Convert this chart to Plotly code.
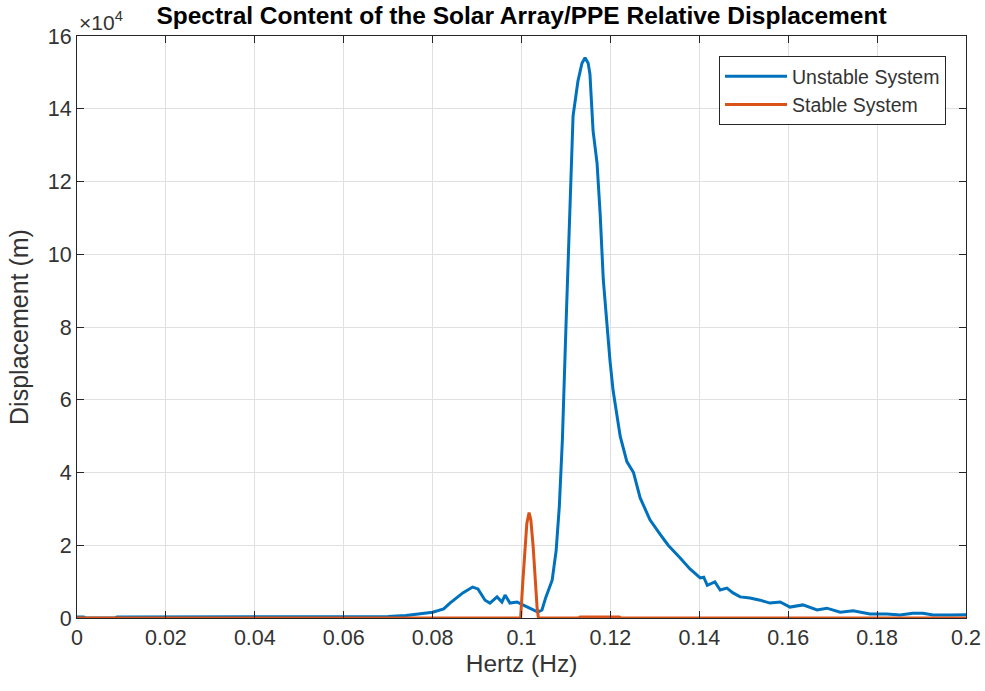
import plotly.graph_objects as go

# ---- data ----
unstable_hz = [0.0, 0.0015, 0.002, 0.0085, 0.009, 0.03, 0.05, 0.07, 0.074, 0.078, 0.08, 0.0825,
               0.0839, 0.0868, 0.089, 0.0902, 0.0918, 0.0929, 0.0945, 0.0956, 0.0963, 0.0974,
               0.099, 0.1003, 0.1026, 0.1037, 0.1046, 0.1055, 0.1069, 0.1078, 0.1085, 0.1089,
               0.1092, 0.11, 0.1105, 0.1111, 0.1116, 0.1127, 0.1136, 0.1143, 0.115, 0.1154,
               0.1161, 0.117, 0.1177, 0.1184, 0.1192, 0.1199, 0.1206, 0.1215, 0.1222, 0.1237,
               0.1252, 0.1267, 0.1289, 0.1312, 0.1330, 0.1357, 0.1379, 0.1402, 0.1410, 0.1418,
               0.1435, 0.1447, 0.1462, 0.1476, 0.1492, 0.1514, 0.1537, 0.1559, 0.1582, 0.1604,
               0.1633, 0.1665, 0.1687, 0.1717, 0.1746, 0.1784, 0.1822, 0.1852, 0.188, 0.1903,
               0.1926, 0.1964, 0.2]
unstable_disp = [300, 300, 0, 0, 300, 300, 300, 400, 700, 1200, 1600, 2500,
                 4100, 6900, 8500, 8000, 4900, 4100, 5800, 4400, 6300, 4100,
                 4400, 3600, 2200, 1600, 2200, 5800, 10400, 18600, 30500, 40000,
                 49000, 80000, 100000, 120000, 138000, 147600, 152500, 154000, 152500, 149500,
                 134000, 125000, 111000, 93000, 80000, 70800, 62600, 56000, 50000, 43000,
                 40000, 33000, 27000, 23000, 20000, 16500, 13500, 11000, 11200, 9000,
                 9900, 7700, 8200, 6900, 5800, 5500, 4900, 4100, 4400, 3000,
                 3600, 2200, 2700, 1600, 2000, 1100, 1100, 800, 1300, 1300,
                 800, 800, 900]

stable_hz = [0.0, 0.075, 0.078, 0.095, 0.097, 0.0998, 0.1003, 0.1008, 0.1012, 0.1017,
             0.1021, 0.1026, 0.1030, 0.1035, 0.1038, 0.105, 0.1128, 0.1132, 0.122, 0.1224, 0.2]
stable_disp = [0, 0, 200, 200, 0, 0, 10000, 19000, 26000, 29000,
               27000, 20000, 12000, 3000, 0, 0, 0, 300, 300, 0, 0]

x_ticks = [0, 0.02, 0.04, 0.06, 0.08, 0.1, 0.12, 0.14, 0.16, 0.18, 0.2]
x_tick_text = ["0", "0.02", "0.04", "0.06", "0.08", "0.1", "0.12", "0.14", "0.16", "0.18", "0.2"]
y_ticks = [0, 20000, 40000, 60000, 80000, 100000, 120000, 140000, 160000]
y_tick_text = ["0", "2", "4", "6", "8", "10", "12", "14", "16"]

font_family = "Liberation Sans, Arial, Helvetica, sans-serif"
axis_col = "#262626"
text_col = "#333333"
grid_col = "#e0e0e0"

fig = go.Figure()
fig.add_trace(go.Scatter(x=unstable_hz, y=unstable_disp, mode="lines", name="Unstable System",
                         line=dict(color="#0072BD", width=3)))
fig.add_trace(go.Scatter(x=stable_hz, y=stable_disp, mode="lines", name="Stable System",
                         line=dict(color="#D95319", width=3)))

fig.update_layout(
    width=985, height=691,
    margin=dict(l=77, r=19, t=36, b=73),
    paper_bgcolor="white", plot_bgcolor="white",
    font=dict(family=font_family, color=text_col, size=20),
    title=dict(text="<b>Spectral Content of the Solar Array/PPE Relative Displacement</b>",
               x=0.5, xref="paper", xanchor="center", y=1 - 15 / 691, yanchor="middle",
               font=dict(size=24.5, color="#000000", family=font_family)),
    legend=dict(x=0.9775, xanchor="right", y=0.9656, yanchor="top",
                bgcolor="white", bordercolor=axis_col, borderwidth=1,
                font=dict(size=19.5, color=text_col), itemwidth=62,
                tracegroupgap=0),
    showlegend=True,
)
fig.update_xaxes(range=[0, 0.2], tickvals=x_ticks, ticktext=x_tick_text,
                 automargin=False,
                 showgrid=True, gridcolor=grid_col, gridwidth=1,
                 showline=True, linecolor=axis_col, linewidth=1, mirror="ticks",
                 ticks="inside", ticklen=7, tickcolor=axis_col,
                 zeroline=False, tickfont=dict(size=21.5, color=text_col),
                 title=dict(text="Hertz (Hz)", font=dict(size=24.5, color=text_col), standoff=6))
fig.update_yaxes(range=[0, 160000], tickvals=y_ticks, ticktext=y_tick_text,
                 automargin=False,
                 showgrid=True, gridcolor=grid_col, gridwidth=1,
                 showline=True, linecolor=axis_col, linewidth=1, mirror="ticks",
                 ticks="inside", ticklen=7, tickcolor=axis_col,
                 zeroline=False, tickfont=dict(size=21.5, color=text_col),
                 title=dict(text="Displacement (m)", font=dict(size=25, color=text_col), standoff=12))

fig.add_annotation(xref="paper", yref="paper", x=0.0, y=1.0, xanchor="left", yanchor="bottom",
                   text="×10<sup>4</sup>", showarrow=False, yshift=0,
                   font=dict(size=21, color=text_col, family=font_family))

fig.write_html("out.html")
